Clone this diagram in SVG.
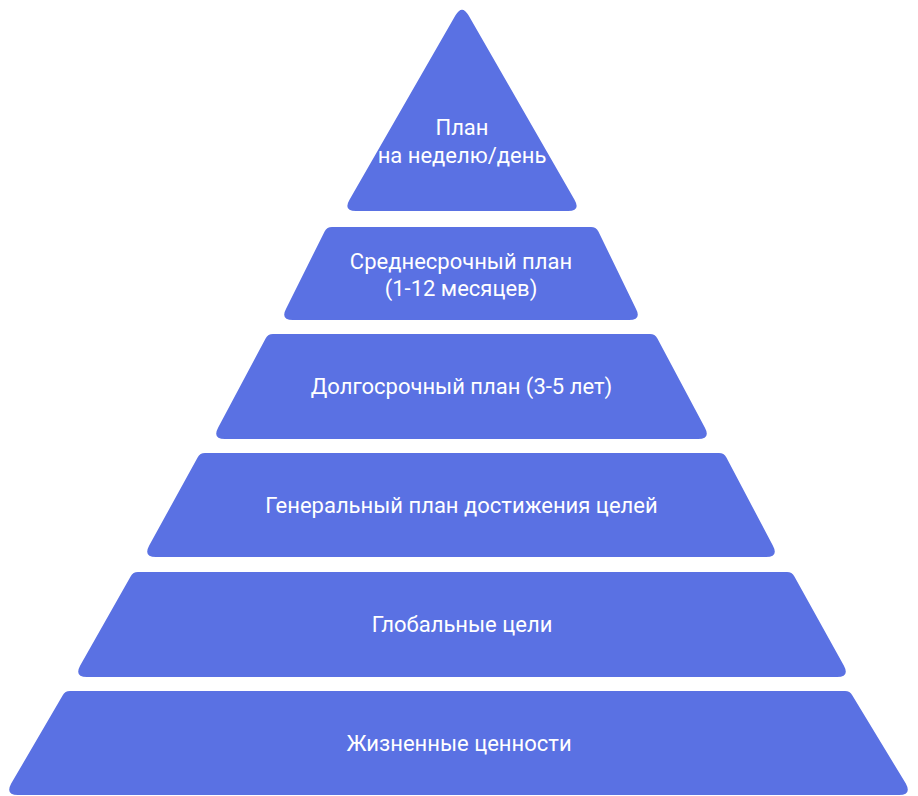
<svg xmlns="http://www.w3.org/2000/svg" width="918" height="796" viewBox="0 0 918 796">
<style>
.shape{fill:#5A71E3;}
.lbl{font-family:Roboto,"Liberation Sans",sans-serif;font-size:22px;fill:#FFFFFF;text-anchor:middle;}
</style>
<rect x="0" y="0" width="918" height="796" fill="#FFFFFF"/>
<g id="level1">
<path class="shape" d="M 455.5,15.3 Q 462,4 468.5,15.3 L 574.5,199.7 Q 581,211 568,211 L 356,211 Q 343,211 349.5,199.7 Z"/>
<text class="lbl" x="462" y="135">План</text>
<text class="lbl" x="462" y="163">на неделю/день</text>
</g>
<g id="level2">
<path class="shape" d="M 332,227 L 591,227 Q 596,227 598.4,231.4 L 635.8,308.6 Q 642,320 629,320 L 293,320 Q 280,320 286.2,308.6 L 324.6,231.4 Q 327,227 332,227 Z"/>
<text class="lbl" x="461" y="269">Среднесрочный план</text>
<text class="lbl" x="461" y="296">(1-12 месяцев)</text>
</g>
<g id="level3">
<path class="shape" d="M 273,334 L 650,334 Q 655,334 657.4,338.4 L 704.8,427.6 Q 711,439 698,439 L 225,439 Q 212,439 218.2,427.6 L 265.6,338.4 Q 268,334 273,334 Z"/>
<text class="lbl" x="461.5" y="394">Долгосрочный план (3-5 лет)</text>
</g>
<g id="level4">
<path class="shape" d="M 205,453 L 719,453 Q 724,453 726.4,457.4 L 772.8,545.6 Q 779,557 766,557 L 156,557 Q 143,557 149.2,545.6 L 197.6,457.4 Q 200,453 205,453 Z"/>
<text class="lbl" x="461.5" y="513">Генеральный план достижения целей</text>
</g>
<g id="level5">
<path class="shape" d="M 138,572 L 787,572 Q 792,572 794.4,576.4 L 843.8,665.6 Q 850,677 837,677 L 87,677 Q 74,677 80.2,665.6 L 130.6,576.4 Q 133,572 138,572 Z"/>
<text class="lbl" x="462" y="632">Глобальные цели</text>
</g>
<g id="level6">
<path class="shape" d="M 70,691 L 845,691 Q 850,691 852.4,695.4 L 905.8,783.6 Q 912,795 899,795 L 18,795 Q 5,795 11.2,783.6 L 62.6,695.4 Q 65,691 70,691 Z"/>
<text class="lbl" x="459" y="751">Жизненные ценности</text>
</g>
<g id="connectors"></g>
</svg>
